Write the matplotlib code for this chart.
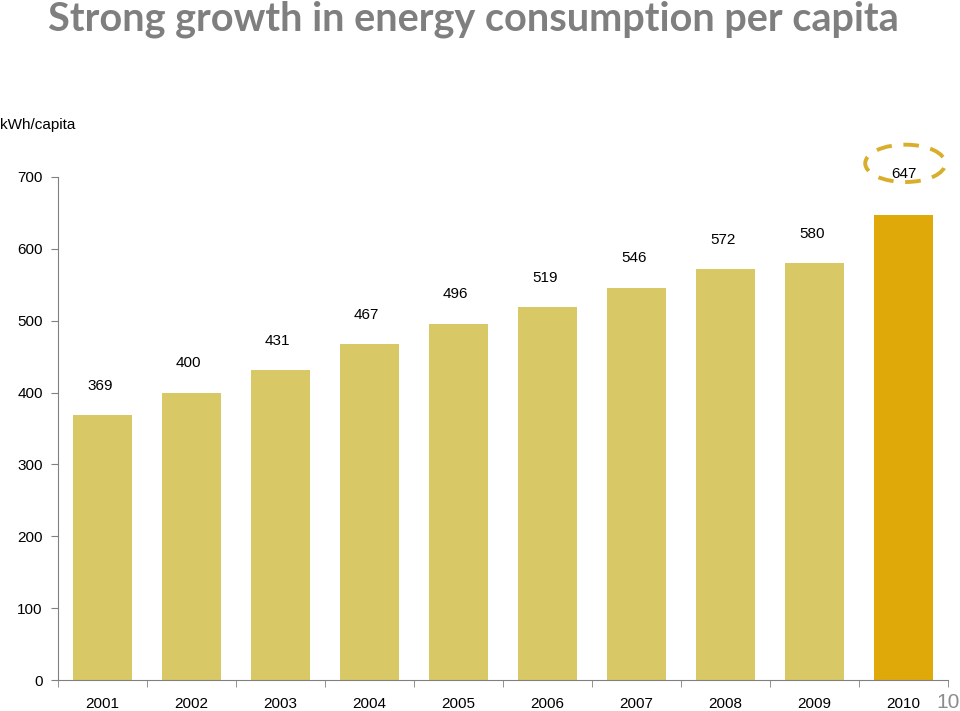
import numpy as np
from matplotlib import pyplot as plt
from matplotlib.patches import Ellipse

years = ['2001', '2002', '2003', '2004', '2005', '2006', '2007', '2008', '2009', '2010']
kwh_per_capita = [369, 400, 431, 467, 496, 519, 546, 572, 580, 647]
yticks = [0, 100, 200, 300, 400, 500, 600, 700]

bar_color = '#D9C866'
last_color = '#E0A90A'
circle_color = '#D9AE2C'

plt.rcParams['font.family'] = ['Liberation Sans', 'DejaVu Sans']

fig = plt.figure(figsize=(9.6, 7.11), dpi=100)
ax = fig.add_axes([58/960, 31/711, 890/960, 503/711])

x = np.arange(len(years))
colors = [bar_color] * (len(years) - 1) + [last_color]
bars = ax.bar(x, kwh_per_capita, width=0.66, color=colors, align='center')

# value labels above bars, the last one sits inside the dashed ring
for i, v in enumerate(kwh_per_capita[:-1]):
    ax.annotate(str(v), (x[i], v), xytext=(-2, 21), textcoords='offset points',
                ha='center', va='center', fontsize=11)
ax.annotate(str(kwh_per_capita[-1]), (x[-1], 700), xytext=(0, 2), textcoords='offset points',
            ha='center', va='center', fontsize=11, annotation_clip=False)

ring = Ellipse((x[-1] + 0.02, 719), width=0.9, height=52, fill=False,
               edgecolor=circle_color, linewidth=2.8, linestyle=(0, (4, 3)),
               clip_on=False)
ax.add_patch(ring)

ax.set_xlim(-0.5, len(years) - 0.5)
ax.set_ylim(0, 700)
ax.set_yticks(yticks)
ax.set_xticks(x)
ax.set_xticklabels(years)
ax.set_xticks(np.arange(-0.5, len(years)), minor=True)
ax.tick_params(axis='x', which='major', length=0, pad=12, labelsize=11)
ax.tick_params(axis='x', which='minor', length=5, color='#808080', direction='out')
ax.tick_params(axis='y', length=5, color='#808080', labelsize=11, pad=6)

for side in ['top', 'right']:
    ax.spines[side].set_visible(False)
for side in ['left', 'bottom']:
    ax.spines[side].set_color('#808080')

fig.text(473/960, 1 - 19/711, 'Strong growth in energy consumption per capita',
         ha='center', va='center', fontsize=28.5, fontweight='bold', color='#7F7F7F',
         family=['Lato', 'DejaVu Sans'])
fig.text(0.0, 1 - 125/711, 'kWh/capita', ha='left', va='center', fontsize=11)
fig.text(1.0, 1 - 703/711, '10', ha='right', va='center', fontsize=15, color='#8C8C8C')

plt.savefig('out.png')
